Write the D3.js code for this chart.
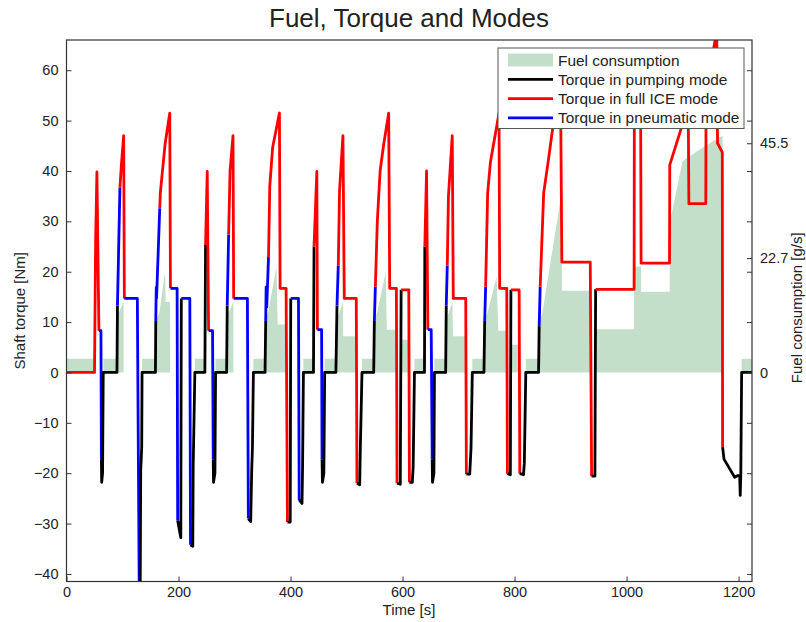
<!DOCTYPE html>
<html>
<head>
<meta charset="utf-8">
<script src="https://cdn.jsdelivr.net/npm/d3@7"></script>
<style>
  body { margin: 0; background: #fff; }
  svg { display: block; }
  text { font-family: "Liberation Sans", Arial, Helvetica, sans-serif; fill: #222; }
</style>
</head>
<body>
<svg id="chart" width="806" height="622"></svg>
<script>
// Shaft torque trace over the drive cycle: time [s], torque [Nm] and the
// operating mode of the segment that starts at each point
// (P = pumping, I = full ICE, N = pneumatic).
const traceTime = [
  0, 50, 52, 54.3, 57.9, 61.5, 62.3, 62.8, 64.4, 65.6,
  90.1, 91, 95.4, 98, 102.1, 103.3, 126.5, 130, 131.5, 132.5,
  134.3, 134.9, 158.8, 159.4, 160.3, 160.8, 166.5, 167.5, 176, 184.4,
  185.6, 197.5, 198.5, 204.1, 205, 220.2, 221.4, 225.5, 226.2, 229.2,
  247.1, 248.3, 251.3, 253.7, 260.8, 262, 262.5, 265, 266.2, 285.9,
  287, 289.5, 292, 297.3, 298.5, 323, 324.7, 328.9, 330.7, 332,
  333.7, 354.5, 355.7, 356.5, 357.5, 360.7, 363, 368, 380.2, 381.4,
  392.1, 394.5, 399.5, 400.4, 414.2, 415.5, 420.5, 421.5, 423, 441,
  442, 447, 448, 455.5, 456.3, 457, 459.5, 461, 481, 483,
  485.3, 487.5, 493.6, 496, 517.4, 518.6, 523.5, 524.6, 527.6, 548.5,
  549.7, 551.5, 555, 560, 566, 575.3, 577.1, 589, 590.2, 596,
  597.5, 611.2, 612.3, 617.5, 619, 621.3, 639.2, 639.8, 642.9, 645.2,
  651.2, 653, 653.5, 656, 657, 677, 678.1, 679.9, 682, 688.8,
  690.6, 712.9, 714, 720, 722.3, 724.6, 745.4, 746.7, 748.4, 752,
  757, 772.3, 773.5, 786.1, 787.3, 792.5, 793.5, 808.2, 809.4, 816,
  817.5, 820.1, 842.9, 844, 845.8, 852, 860, 870, 878, 882,
  884.5, 935.2, 937.6, 943.5, 944.8, 1013.5, 1014, 1025, 1026, 1076.7,
  1077.2, 1100.6, 1105, 1110, 1111.3, 1141.5, 1142, 1161, 1162.5, 1171,
  1171.5, 1174, 1184, 1193, 1198, 1202, 1203, 1204, 1205.5, 1224
];
const traceTorque = [
  0, 0, 26, 39.8, 8.3, 8.3, -17.3, -21.8, -20, 0,
  0, 13.3, 36.7, 41.2, 47, 14.7, 14.7, -46, -46, -19.4,
  -14.9, 0, 0, 10.2, 16.9, 14.7, 32.6, 35.6, 45.3, 51.5,
  16.7, 16.7, -29.4, -32.8, 14.7, 14.7, -34.2, -34.5, -18.7, 0,
  0, 25.3, 39.9, 8.3, 8.3, -17.3, -21.8, -20, 0, 0,
  13.3, 27.4, 40, 47, 14.7, 14.7, -29, -29.6, -19.4, -14.9,
  0, 0, 10.2, 17, 13, 22.9, 37, 44.6, 51.5, 16.7,
  16.7, -29.7, -29.7, 14.7, 14.7, -25.3, -26, -19, 0, 0,
  25, 39.9, 8.5, 8.5, -17.3, -21.8, -20, 0, 0, 13.3,
  21.2, 36, 47, 14.7, 14.7, -22, -22.3, -15.3, 0, 0,
  10.2, 17, 30, 40, 45, 51.5, 16.7, 16.7, -22, -22.2,
  16.4, 16.4, -21.8, -21.8, -18.7, 0, 0, 25, 40, 8.5,
  8.5, -17.3, -21.8, -20, 0, 0, 13.3, 21.2, 35, 47,
  14.7, 14.7, -20.2, -20.2, -15, 0, 0, 10.2, 17, 35.6,
  41.8, 51.5, 16.7, 16.7, -20.1, -20.3, 16.4, 16.4, -20.1, -20.3,
  -18, 0, 0, 9.2, 17, 35.6, 41.8, 50, 57, 58,
  21.9, 21.9, -20.6, -20.6, 16.5, 16.5, 58, 58, 21.7, 21.7,
  41.2, 49.5, 55, 55, 33.5, 33.5, 55, 68, 45.5, 43.7,
  -14.8, -17.2, -19.1, -20.8, -20.5, -20.5, -24.4, -20.3, 0, 0
];
const traceMode = [
  "I","I","I","I","N","N","P","P","P","P",
  "P","N","I","I","I","N","N","P","P","P",
  "P","P","P","N","N","N","I","I","I","I",
  "N","N","P","P","N","N","P","P","P","P",
  "P","I","I","N","N","P","P","P","P","P",
  "N","I","I","I","N","N","P","P","P","P",
  "P","P","N","N","N","I","I","I","I","I",
  "I","P","P","N","N","P","P","P","P","P",
  "I","I","N","N","P","P","P","P","P","N",
  "I","I","I","I","I","P","P","P","P","P",
  "N","I","I","I","I","I","I","I","P","P",
  "I","I","P","P","P","P","P","I","I","N",
  "N","P","P","P","P","P","N","I","I","I",
  "I","I","P","P","P","P","P","N","I","I",
  "I","I","I","I","P","P","I","I","P","P",
  "P","P","P","N","I","I","I","I","I","I",
  "I","I","P","P","I","I","I","I","I","I",
  "I","I","I","I","I","I","I","I","I","I",
  "P","P","P","P","P","P","P","P","P","P"
];

// Fuel consumption [g/s] as a piecewise-linear outline (repeated times are steps).
const fuelTime = [
  0, 50, 50, 66, 66, 90, 90, 102, 102, 135,
  135, 159, 159, 166, 176, 177, 185, 185, 229, 229,
  247, 247, 266, 266, 286, 286, 298, 298, 333.7, 333.7,
  354.5, 354.5, 360, 375, 377, 392, 392, 423, 423, 441,
  441, 461, 461, 481, 481, 493.6, 494, 517.4, 517.4, 527.6,
  527.6, 548.5, 548.5, 555, 570, 572, 589, 589, 597.5, 597.5,
  611, 611, 621.3, 621.3, 639.2, 639.2, 657, 657, 677, 677,
  689, 690, 713, 713, 724.6, 724.6, 745.4, 745.4, 752, 768,
  771, 786, 786, 793.5, 793.5, 808, 808, 820, 820, 843,
  843, 850, 884.5, 884.5, 935, 935, 944.8, 944.8, 1013.5, 1013.5,
  1026, 1026, 1077, 1077, 1100, 1141, 1171.5, 1171.5, 1205.5, 1205.5,
  1224
];
const fuelRate = [
  2.7, 2.7, 0, 0, 2.7, 2.7, 11, 14, 0, 0,
  2.7, 2.7, 10, 12, 20, 14, 14, 0, 0, 2.7,
  2.7, 0, 0, 2.7, 2.7, 11, 14, 0, 0, 2.7,
  2.7, 10, 12, 21, 9.5, 9.5, 0, 0, 2.7, 2.7,
  0, 0, 2.7, 2.7, 10, 14, 7.2, 7.2, 0, 0,
  2.7, 2.7, 10, 12, 20, 8.5, 8.5, 0, 0, 6.5,
  6.5, 0, 0, 2.7, 2.7, 0, 0, 2.7, 2.7, 10,
  14, 7.2, 7.2, 0, 0, 2.7, 2.7, 10, 12, 19,
  8.3, 8.3, 0, 0, 5.5, 5.5, 0, 0, 2.7, 2.7,
  9, 12, 36, 16.2, 16.2, 0, 0, 8.6, 8.6, 21,
  21, 16, 16, 29.5, 42, 45, 47, 0, 0, 2.7,
  2.7
];

const timeTicks = [0, 200, 400, 600, 800, 1000, 1200];
const torqueTicks = [-40, -30, -20, -10, 0, 10, 20, 30, 40, 50, 60];
const fuelTicks = [0, 22.7, 45.5];
const fuelTickLabels = ["0", "22.7", "45.5"];

const modeColor = { P: "#000000", I: "#ff0000", N: "#0000ff" };
const legendEntries = [
  { key: "fuel", label: "Fuel consumption" },
  { key: "P", label: "Torque in pumping mode" },
  { key: "I", label: "Torque in full ICE mode" },
  { key: "N", label: "Torque in pneumatic mode" }
];
const fuelFill = "#c3dfc9";

const svg = d3.select("#chart");
const plot = { left: 66.5, right: 752, top: 40, bottom: 581.5 };

const x = d3.scaleLinear().domain([0, 1224]).range([plot.left, plot.right]);
const y = d3.scaleLinear().domain([-41.5, 66]).range([plot.bottom, plot.top]);
const yFuel = d3.scaleLinear().domain([-41.5, 66]).range([plot.bottom, plot.top]);

svg.append("defs").append("clipPath").attr("id", "plotClip")
  .append("rect")
  .attr("x", plot.left).attr("y", plot.top)
  .attr("width", plot.right - plot.left).attr("height", plot.bottom - plot.top);

const body = svg.append("g").attr("clip-path", "url(#plotClip)");

// fuel consumption area
const fuelPts = fuelTime.map((t, i) => [t, fuelRate[i]]);
body.append("path")
  .datum(fuelPts)
  .attr("fill", fuelFill)
  .attr("d", d3.area().x(d => x(d[0])).y0(yFuel(0)).y1(d => yFuel(d[1])));

// torque trace split into runs of constant mode
const pts = traceTime.map((t, i) => ({ t, v: traceTorque[i], m: traceMode[i] }));
const runs = [];
let start = 0;
for (let i = 1; i < pts.length; i++) {
  if (pts[i].m !== pts[start].m) {
    runs.push({ m: pts[start].m, pts: pts.slice(start, i + 1) });
    start = i;
  }
}
if (start < pts.length - 1) runs.push({ m: pts[start].m, pts: pts.slice(start) });

const line = d3.line().x(d => x(d.t)).y(d => y(d.v));
body.selectAll("path.trace")
  .data(runs)
  .join("path")
  .attr("class", "trace")
  .attr("fill", "none")
  .attr("stroke", d => modeColor[d.m])
  .attr("stroke-width", 2.8)
  .attr("stroke-linejoin", "round")
  .attr("stroke-linecap", "butt")
  .attr("d", d => line(d.pts));

// axes
const axisColor = "#333";
const fontSize = 15;

const xAxis = svg.append("g")
  .attr("transform", `translate(0,${plot.bottom})`)
  .call(d3.axisBottom(x).tickValues(timeTicks).tickSize(-5).tickPadding(5).tickFormat(d3.format("d")));
const yAxis = svg.append("g")
  .attr("transform", `translate(${plot.left},0)`)
  .call(d3.axisLeft(y).tickValues(torqueTicks).tickSize(-5).tickPadding(8).tickFormat(d => d < 0 ? "\u2212" + Math.abs(d) : d));
const yRightMirror = svg.append("g")
  .attr("transform", `translate(${plot.right},0)`)
  .call(d3.axisRight(y).tickValues(torqueTicks).tickSize(-5).tickFormat(""));
const yFuelAxis = svg.append("g")
  .attr("transform", `translate(${plot.right},0)`)
  .call(d3.axisRight(yFuel).tickValues(fuelTicks).tickSize(-5).tickPadding(8)
    .tickFormat((d, i) => fuelTickLabels[i]));

[xAxis, yAxis, yRightMirror, yFuelAxis].forEach(g => {
  g.select(".domain").remove();
  g.selectAll(".tick line").attr("stroke", axisColor).attr("stroke-width", 1);
  g.selectAll(".tick text")
    .attr("fill", "#222")
    .style("font-size", "14.5px")
    .style("font-family", '"Liberation Sans", Arial, sans-serif');
});

// axes box
svg.append("rect")
  .attr("x", plot.left).attr("y", plot.top)
  .attr("width", plot.right - plot.left).attr("height", plot.bottom - plot.top)
  .attr("fill", "none").attr("stroke", axisColor).attr("stroke-width", 1.2);

// legend
const lg = { x: 498, y: 48, w: 246, h: 80.5 };
const legend = svg.append("g");
legend.append("rect")
  .attr("x", lg.x).attr("y", lg.y).attr("width", lg.w).attr("height", lg.h)
  .attr("fill", "#fff").attr("stroke", "#555").attr("stroke-width", 1);
legendEntries.forEach((e, i) => {
  const cy = lg.y + 12 + i * 19.3;
  if (e.key === "fuel") {
    legend.append("rect")
      .attr("x", lg.x + 10).attr("y", cy - 6.5).attr("width", 45).attr("height", 13)
      .attr("fill", fuelFill);
  } else {
    legend.append("line")
      .attr("x1", lg.x + 10).attr("x2", lg.x + 55).attr("y1", cy).attr("y2", cy)
      .attr("stroke", modeColor[e.key]).attr("stroke-width", 2.8);
  }
  legend.append("text")
    .attr("x", lg.x + 60).attr("y", cy)
    .attr("dy", "0.36em")
    .style("font-size", "15.4px")
    .text(e.label);
});

// titles
svg.append("text")
  .attr("x", 409).attr("y", 27)
  .attr("text-anchor", "middle")
  .style("font-size", "26px")
  .text("Fuel, Torque and Modes");
svg.append("text")
  .attr("x", 409).attr("y", 615)
  .attr("text-anchor", "middle")
  .style("font-size", fontSize + "px")
  .text("Time [s]");
svg.append("text")
  .attr("transform", `translate(25,${(plot.top + plot.bottom) / 2}) rotate(-90)`)
  .attr("text-anchor", "middle")
  .style("font-size", fontSize + "px")
  .text("Shaft torque [Nm]");
svg.append("text")
  .attr("transform", `translate(802,${(plot.top + plot.bottom) / 2 - 3}) rotate(-90)`)
  .attr("text-anchor", "middle")
  .style("font-size", fontSize + "px")
  .text("Fuel consumption [g/s]");
</script>
</body>
</html>
